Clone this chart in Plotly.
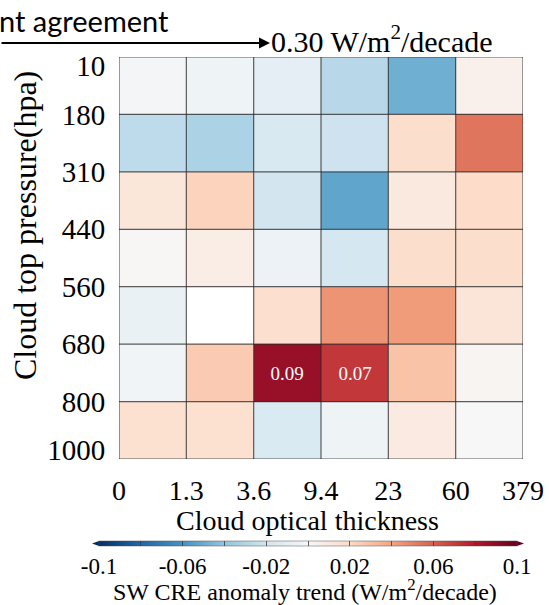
import numpy as np
import plotly.graph_objects as go

# ---------------- data ----------------
cot_ticks = ["0", "1.3", "3.6", "9.4", "23", "60", "379"]
ctp_ticks = ["10", "180", "310", "440", "560", "680", "800", "1000"]

row_10_180 = [-0.002, -0.005, -0.010, -0.028, -0.049, 0.005]
row_180_310 = [-0.026, -0.032, -0.016, -0.021, 0.018, 0.054]
row_310_440 = [0.012, 0.023, -0.019, -0.053, 0.010, 0.019]
row_440_560 = [0.001, 0.007, -0.006, -0.018, 0.018, 0.018]
row_560_680 = [-0.007, None, 0.017, 0.045, 0.043, 0.013]
row_680_800 = [-0.003, 0.026, 0.087, 0.071, 0.029, 0.002]
row_800_1000 = [0.016, 0.016, -0.015, -0.005, 0.009, 0.000]

cell_labels_680_800 = ["", "", "0.09", "0.07", "", ""]

cbar_vals = [-0.1, -0.08, -0.06, -0.04, -0.02, 0.0, 0.02, 0.04, 0.06, 0.08, 0.1]
cbar_text = ["-0.1", "", "-0.06", "", "-0.02", "", "0.02", "", "0.06", "", "0.1"]

z = [row_10_180, row_180_310, row_310_440, row_440_560,
     row_560_680, row_680_800, row_800_1000]
labels = [[""] * 6] * 5 + [cell_labels_680_800] + [[""] * 6]

# ColorBrewer RdBu reversed
rdbu_r = ["rgb(5,48,97)", "rgb(33,102,172)", "rgb(67,147,195)", "rgb(146,197,222)",
          "rgb(209,229,240)", "rgb(247,247,247)", "rgb(253,219,199)", "rgb(244,165,130)",
          "rgb(214,96,77)", "rgb(178,24,43)", "rgb(103,0,31)"]
colorscale = [[i / (len(rdbu_r) - 1), c] for i, c in enumerate(rdbu_r)]

ncols = len(cot_ticks) - 1
nrows = len(ctp_ticks) - 1

W, H = 549, 605
L, R, T, B = 119, 26, 57, 146
PW, PH = W - L - R, H - T - B


def px(xpix):
    return (xpix - L) / PW


def py(ypix):
    return (H - B - ypix) / PH


SERIF = "Liberation Serif, Times New Roman, Times, serif"

fig = go.Figure()
fig.add_trace(go.Heatmap(
    z=z,
    x=np.arange(ncols) + 0.5,
    y=np.arange(nrows) + 0.5,
    text=labels,
    texttemplate="%{text}",
    textfont=dict(family=SERIF, size=19, color="white"),
    colorscale=colorscale,
    zmin=-0.1, zmax=0.1,
    hoverongaps=False,
    colorbar=dict(
        orientation="h",
        x=px(308), xanchor="center",
        y=py(541), yanchor="top", ypad=0, xpad=0,
        len=418, lenmode="pixels",
        thickness=5,
        tickvals=cbar_vals, ticktext=cbar_text,
        ticks="inside", ticklen=5, tickwidth=1, tickcolor="rgba(60,60,60,0.8)",
        tickfont=dict(family=SERIF, size=23, color="black"),
        outlinewidth=0.6, outlinecolor="rgba(80,80,80,0.8)",
    ),
))

shapes = []
for c in range(ncols + 1):
    shapes.append(dict(type="line", xref="x", yref="y", x0=c, x1=c, y0=0, y1=nrows,
                       line=dict(color="rgba(40,40,40,0.75)", width=1.2), layer="above"))
for r in range(nrows + 1):
    shapes.append(dict(type="line", xref="x", yref="y", x0=0, x1=ncols, y0=r, y1=r,
                       line=dict(color="rgba(40,40,40,0.75)", width=1.2), layer="above"))

# colorbar extension triangles
cb_top, cb_bot = 541, 546
cb_mid = (cb_top + cb_bot) / 2
shapes.append(dict(type="path", xref="paper", yref="paper",
                   path=f"M {px(99)} {py(cb_top)} L {px(92)} {py(cb_mid)} L {px(99)} {py(cb_bot)} Z",
                   fillcolor=rdbu_r[0], line=dict(width=0)))
shapes.append(dict(type="path", xref="paper", yref="paper",
                   path=f"M {px(517)} {py(cb_top)} L {px(524)} {py(cb_mid)} L {px(517)} {py(cb_bot)} Z",
                   fillcolor=rdbu_r[-1], line=dict(width=0)))

annotations = [
    dict(text="nt agreement", xref="paper", yref="paper", x=px(-3), y=py(21),
         xanchor="left", yanchor="middle", showarrow=False,
         font=dict(family="Lato, sans-serif", size=29, color="black")),
    dict(text="", xref="paper", yref="paper", x=px(270), y=py(43),
         ax=-275, ay=0, showarrow=True, arrowhead=2, arrowsize=1, arrowwidth=2.2,
         arrowcolor="black"),
    dict(text="0.30 W/m<sup>2</sup>/decade", xref="paper", yref="paper", x=px(269), y=py(39),
         xanchor="left", yanchor="middle", showarrow=False,
         font=dict(family=SERIF, size=30, color="black")),
    dict(text="Cloud optical thickness", xref="paper", yref="paper", x=px(307), y=py(520),
         xanchor="center", yanchor="middle", showarrow=False,
         font=dict(family=SERIF, size=28, color="black")),
    dict(text="Cloud top pressure(hpa)", xref="paper", yref="paper", x=px(25), y=py(226),
         xanchor="center", yanchor="middle", showarrow=False, textangle=-90,
         font=dict(family=SERIF, size=32, color="black")),
    dict(text="SW CRE anomaly trend (W/m<sup>2</sup>/decade)", xref="paper", yref="paper",
         x=px(305), y=py(590), xanchor="center", yanchor="middle", showarrow=False,
         font=dict(family=SERIF, size=24, color="black")),
]

fig.update_layout(
    width=W, height=H,
    margin=dict(l=L, r=R, t=T, b=B, pad=0, autoexpand=False),
    paper_bgcolor="white", plot_bgcolor="white",
    shapes=shapes, annotations=annotations,
    xaxis=dict(range=[0, ncols], tickvals=list(range(ncols + 1)), ticktext=cot_ticks,
               ticks="outside", ticklen=6, tickcolor="rgba(0,0,0,0)",
               showgrid=False, zeroline=False, showline=False,
               tickfont=dict(family=SERIF, size=28, color="black")),
    yaxis=dict(range=[nrows, 0], tickvals=[0.16] + list(range(1, nrows)) + [nrows - 0.16],
               ticktext=ctp_ticks,
               ticks="outside", ticklen=7, tickcolor="rgba(0,0,0,0)",
               showgrid=False, zeroline=False, showline=False,
               tickfont=dict(family=SERIF, size=29, color="black")),
    showlegend=False,
)

fig.write_html("out.html", config={"displayModeBar": False},
               post_script="document.body.style.margin='0';document.body.style.padding='0';")
